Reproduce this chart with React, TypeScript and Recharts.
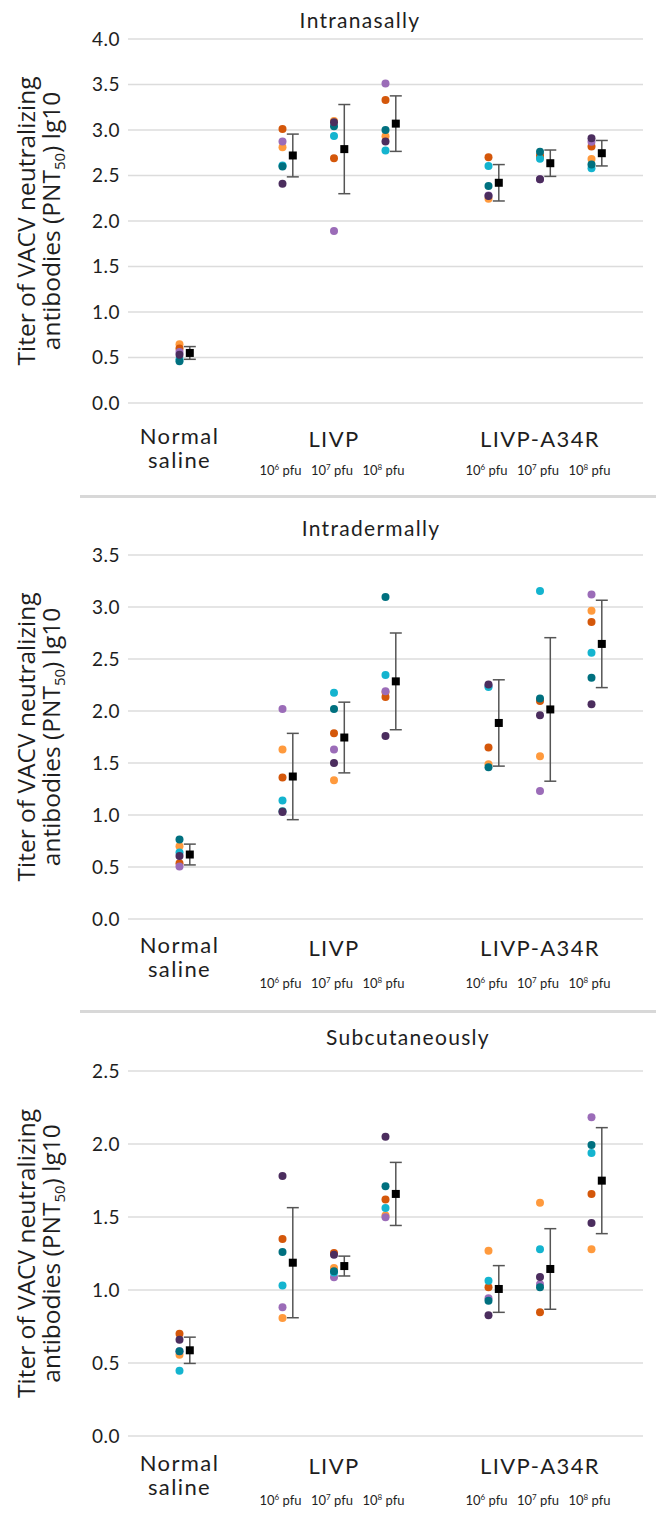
import React from 'react';
import { ScatterChart, Scatter, XAxis, YAxis, CartesianGrid, ErrorBar } from 'recharts';

// x positions of groups: saline, LIVP 10^6/10^7/10^8, LIVP-A34R 10^6/10^7/10^8
const groupX = [1, 3, 4, 5, 7, 8, 9];
const doseExp: Record<number, string> = { 3: '6', 4: '7', 5: '8', 7: '6', 8: '7', 9: '8' };
const groupNames: Record<number, string[]> = { 1: ['Normal', 'saline'], 4: ['LIVP'], 8: ['LIVP-A34R'] };
const meanShift = 0.2;

// colour of each animal (drawing order)
const animalColors = ['#FF9A3D', '#D4570A', '#9B6CB8', '#14B4CF', '#00707F', '#4B2D5E'];

// ---- Intranasally ----
const inLightOrange = [0.645, 2.81, 3.1, 2.93, 2.245, 2.7, 2.68];
const inDarkOrange = [0.6, 3.01, 2.69, 3.33, 2.7, 2.72, 2.82];
const inLightPurple = [0.56, 2.875, 1.89, 3.51, 2.28, 2.46, 2.87];
const inCyan = [0.48, 2.61, 2.935, 2.775, 2.605, 2.685, 2.58];
const inTeal = [0.46, 2.6, 3.04, 3.0, 2.385, 2.76, 2.62];
const inDarkPurple = [0.53, 2.41, 3.085, 2.875, 2.275, 2.46, 2.91];
const inMean = [0.55, 2.72, 2.79, 3.07, 2.42, 2.635, 2.745];
const inErr = [0.07, 0.235, 0.49, 0.305, 0.2, 0.145, 0.14];
const inTicks = [0, 0.5, 1, 1.5, 2, 2.5, 3, 3.5, 4];

// ---- Intradermally ----
const idLightOrange = [0.7, 1.63, 1.335, 2.18, 1.487, 1.565, 2.965];
const idDarkOrange = [0.535, 1.36, 1.785, 2.135, 1.65, 2.095, 2.855];
const idLightPurple = [0.505, 2.02, 1.63, 2.19, 2.24, 1.23, 3.12];
const idCyan = [0.64, 1.14, 2.175, 2.345, 2.23, 3.155, 2.56];
const idTeal = [0.765, 1.035, 2.02, 3.095, 1.46, 2.12, 2.32];
const idDarkPurple = [0.605, 1.03, 1.5, 1.76, 2.255, 1.96, 2.065];
const idMean = [0.62, 1.37, 1.745, 2.285, 1.885, 2.015, 2.645];
const idErr = [0.1, 0.415, 0.34, 0.465, 0.415, 0.69, 0.42];
const idTicks = [0, 0.5, 1, 1.5, 2, 2.5, 3, 3.5];

// ---- Subcutaneously ----
const scLightOrange = [0.557, 0.808, 1.15, 1.51, 1.269, 1.598, 1.279];
const scDarkOrange = [0.7, 1.35, 1.253, 1.62, 1.018, 0.847, 1.658];
const scLightPurple = [0.58, 0.881, 1.087, 1.498, 0.943, 1.039, 2.183];
const scCyan = [0.447, 1.03, 1.12, 1.562, 1.064, 1.279, 1.938];
const scTeal = [0.58, 1.26, 1.128, 1.71, 0.927, 1.018, 1.993];
const scDarkPurple = [0.66, 1.781, 1.242, 2.05, 0.827, 1.089, 1.459];
const scMean = [0.587, 1.187, 1.164, 1.658, 1.007, 1.144, 1.749];
const scErr = [0.09, 0.377, 0.068, 0.216, 0.16, 0.276, 0.363];
const scTicks = [0, 0.5, 1, 1.5, 2, 2.5];

const GEO = 'Lato, "Noto Sans", sans-serif';
const TXT = '#1e1e1e';

const XTick = (props: any) => {
  const { x, y, payload, groupDy, doseDy } = props;
  const v = payload.value;
  const names = groupNames[v];
  const exp = doseExp[v];
  return (
    <g>
      {names &&
        names.map((n: string, i: number) => (
          <text
            key={n}
            x={x}
            y={y + groupDy + (names.length > 1 ? -3 : 0) + i * 24}
            textAnchor="middle"
            fontFamily={GEO}
            fontSize={22}
            letterSpacing={1.4}
            fill={TXT}
          >
            {n}
          </text>
        ))}
      {exp && (
        <text x={x - 2} y={y + doseDy} textAnchor="middle" fontFamily={GEO} fontSize={13} fill={TXT}>
          <tspan>10</tspan>
          <tspan fontSize={8} dy={-5}>
            {exp}
          </tspan>
          <tspan dy={5}> pfu</tspan>
        </text>
      )}
    </g>
  );
};

const YTitle = (props: any) => {
  const vb = props.viewBox || { x: 0, y: 0, width: 0, height: 0 };
  const cy = vb.y + vb.height / 2;
  const f = '"Open Sans", "Noto Sans", sans-serif';
  return (
    <g>
      <text transform={`translate(${vb.x + 35}, ${cy}) rotate(-90)`} textAnchor="middle" fontFamily={f} fontSize={24.5} fill={TXT}>
        Titer of VACV neutralizing
      </text>
      <text transform={`translate(${vb.x + 60}, ${cy}) rotate(-90)`} textAnchor="middle" fontFamily={f} fontSize={24.5} fill={TXT}>
        <tspan>antibodies (PNT</tspan>
        <tspan fontSize={15} dy={5}>50</tspan>
        <tspan dy={-5}>) lg10</tspan>
      </text>
    </g>
  );
};

type PanelProps = {
  title: string;
  titleX: number;
  titleY: number;
  height: number;
  top: number;
  bottom: number;
  ticks: number[];
  animals: number[][];
  mean: number[];
  err: number[];
  groupDy: number;
  doseDy: number;
};

const Panel = ({ title, titleX, titleY, height, top, bottom, ticks, animals, mean, err, groupDy, doseDy }: PanelProps) => {
  const meanData = groupX.map((x, i) => ({ x: x + meanShift, y: mean[i], err: err[i] }));
  return (
    <div style={{ position: 'relative', width: 656, height }}>
      <div
        style={{
          position: 'absolute',
          left: titleX - 150,
          width: 300,
          top: titleY - 14,
          textAlign: 'center',
          fontFamily: GEO,
          fontSize: 21,
          letterSpacing: 1.3,
          color: TXT,
          lineHeight: '28px',
        }}
      >
        {title}
      </div>
      <ScatterChart width={656} height={height} margin={{ top, right: 13, bottom, left: 0 }}>
        <CartesianGrid vertical={false} stroke="#dcdcdc" strokeWidth={1.6} />
        <XAxis
          type="number"
          dataKey="x"
          domain={[0, 10]}
          ticks={groupX}
          interval={0}
          height={30}
          axisLine={false}
          tickLine={false}
          tickSize={0}
          tickMargin={0}
          tick={<XTick groupDy={groupDy} doseDy={doseDy} />}
        />
        <YAxis
          type="number"
          dataKey="y"
          domain={[0, ticks[ticks.length - 1]]}
          ticks={ticks}
          interval={0}
          width={128}
          axisLine={false}
          tickLine={false}
          tickFormatter={(v: number) => v.toFixed(1)}
          tick={{ fontFamily: GEO, fontSize: 19, fill: TXT, letterSpacing: 0.5 }}
          label={<YTitle />}
        />
        {animals.map((vals, k) => (
          <Scatter
            key={k}
            data={groupX.map((x, i) => ({ x, y: vals[i] }))}
            isAnimationActive={false}
            shape={(p: any) => <circle cx={p.cx} cy={p.cy} r={4} fill={animalColors[k]} />}
          />
        ))}
        <Scatter
          data={meanData}
          isAnimationActive={false}
          shape={(p: any) => <rect x={p.cx - 4} y={p.cy - 4} width={8} height={8} fill="#000" />}
        >
          <ErrorBar dataKey="err" direction="y" width={6} stroke="#555" strokeWidth={1.5} />
        </Scatter>
      </ScatterChart>
    </div>
  );
};

const Separator = () => (
  <div style={{ position: 'relative', height: 0 }}>
    <div style={{ position: 'absolute', left: 80, right: 0, top: -2, height: 2.5, background: '#d8d8d8' }} />
  </div>
);

export default function App() {
  return (
    <div style={{ position: 'absolute', left: 0, top: 0, width: 656, height: 1513, background: '#fff' }}>
      <Panel
        title="Intranasally"
        titleX={360}
        titleY={20}
        height={497}
        top={39}
        bottom={64}
        ticks={inTicks}
        animals={[inLightOrange, inDarkOrange, inLightPurple, inCyan, inTeal, inDarkPurple]}
        mean={inMean}
        err={inErr}
        groupDy={44}
        doseDy={72}
      />
      <Separator />
      <Panel
        title="Intradermally"
        titleX={371}
        titleY={31}
        height={515}
        top={58}
        bottom={63}
        ticks={idTicks}
        animals={[idLightOrange, idDarkOrange, idLightPurple, idCyan, idTeal, idDarkPurple]}
        mean={idMean}
        err={idErr}
        groupDy={37}
        doseDy={69}
      />
      <Separator />
      <Panel
        title="Subcutaneously"
        titleX={408}
        titleY={25}
        height={501}
        top={59}
        bottom={47}
        ticks={scTicks}
        animals={[scLightOrange, scDarkOrange, scLightPurple, scCyan, scTeal, scDarkPurple]}
        mean={scMean}
        err={scErr}
        groupDy={38}
        doseDy={69}
      />
    </div>
  );
}
